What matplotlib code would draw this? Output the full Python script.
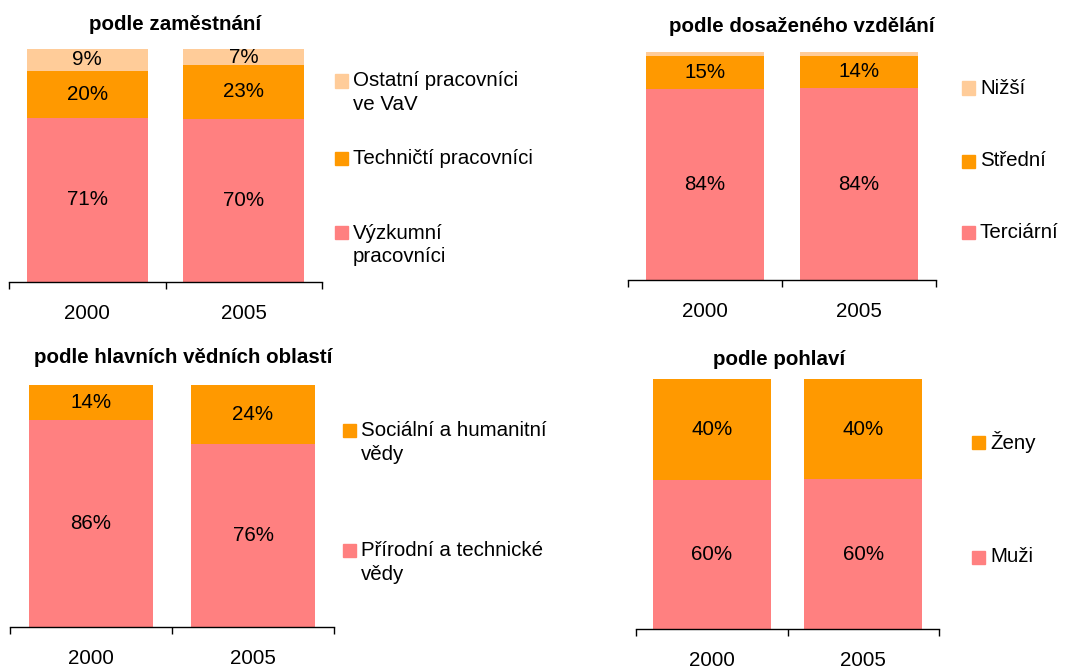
"""Struktura zaměstnanců VaV - čtyři 100% skládané sloupcové grafy (2000 vs 2005)."""
import matplotlib
matplotlib.use('Agg')
import matplotlib.pyplot as plt
from matplotlib.patches import Rectangle
from matplotlib.ticker import FixedLocator

plt.rcParams['font.family'] = ['Liberation Sans', 'DejaVu Sans']

W, H = 1072, 668
FS = 14.8

PINK = '#FF8080'
ORANGE = '#FF9900'
LIGHT = '#FFCC99'

years = ['2000', '2005']

# podle zaměstnání (odspodu nahoru)
zam_labels = ['Výzkumní\npracovníci', 'Techničtí pracovníci', 'Ostatní pracovníci\nve VaV']
zam_vyzkumni = [70.6, 70.0]
zam_technicti = [20.1, 23.1]
zam_ostatni = [9.3, 6.9]

# podle dosaženého vzdělání
vzd_labels = ['Terciární', 'Střední', 'Nižší']
vzd_terciarni = [83.7, 84.2]
vzd_stredni = [14.6, 14.1]
vzd_nizsi = [1.7, 1.7]

# podle hlavních vědních oblastí
obl_labels = ['Přírodní a technické\nvědy', 'Sociální a humanitní\nvědy']
obl_prirodni = [85.7, 75.7]
obl_socialni = [14.3, 24.3]

# podle pohlaví
poh_labels = ['Muži', 'Ženy']
poh_muzi = [59.6, 59.9]
poh_zeny = [40.4, 40.1]


def fx(px):
    return px / W


def fy(py):
    return 1 - py / H


def draw_panel(fig, box, title, title_xy, series, labels, colors,
               bar_width, leg_x, leg_y):
    left, top, right, bottom = box
    ax = fig.add_axes([fx(left), fy(bottom), fx(right - left), (bottom - top) / H])
    x = [0.5, 1.5]
    base = [0.0, 0.0]
    for vals, col in zip(series, colors):
        ax.bar(x, vals, bottom=base, width=bar_width, color=col, linewidth=0)
        for xi, b, v in zip(x, base, vals):
            if v >= 3:
                ax.text(xi, b + v / 2, f'{v:.0f}%', ha='center', va='center',
                        fontsize=FS, color='black')
        base = [b + v for b, v in zip(base, vals)]

    ax.set_xlim(0, 2)
    ax.set_ylim(0, 100)
    ax.set_yticks([])
    for s in ['top', 'left', 'right']:
        ax.spines[s].set_visible(False)
    ax.spines['bottom'].set_linewidth(1.0)
    ax.set_xticks(x)
    ax.set_xticklabels(years, fontsize=FS)
    ax.xaxis.set_minor_locator(FixedLocator([0, 1, 2]))
    ax.tick_params(axis='x', which='major', length=0, pad=16)
    ax.tick_params(axis='x', which='minor', length=5, width=1.0, direction='out')

    fig.text(fx(title_xy[0]), fy(title_xy[1]), title, ha='center', va='center',
             fontsize=FS, fontweight='bold')

    # legenda (shora dolů = opačné pořadí řad)
    for lab, col, yc in zip(labels[::-1], colors[::-1], leg_y):
        fig.patches.append(Rectangle((fx(leg_x), fy(yc + 6.5)), 13 / W, 13 / H,
                                     transform=fig.transFigure, color=col,
                                     figure=fig))
        for i, line in enumerate(lab.split('\n')):
            fig.text(fx(leg_x + 18), fy(yc + i * 24), line, ha='left',
                     va='center', fontsize=FS)
    return ax


fig = plt.figure(figsize=(W / 100, H / 100), dpi=100)

draw_panel(fig, (9, 49, 322, 282), 'podle zaměstnání', (175, 24),
           [zam_vyzkumni, zam_technicti, zam_ostatni], zam_labels,
           [PINK, ORANGE, LIGHT], 0.77, 335, [81, 158, 233])

draw_panel(fig, (628, 52, 936, 280), 'podle dosaženého vzdělání', (802, 27),
           [vzd_terciarni, vzd_stredni, vzd_nizsi], vzd_labels,
           [PINK, ORANGE, LIGHT], 0.77, 962, [88, 161, 232])

draw_panel(fig, (10, 385, 334, 627), 'podle hlavních vědních oblastí', (183, 358),
           [obl_prirodni, obl_socialni], obl_labels,
           [PINK, ORANGE], 0.77, 343, [430, 550])

draw_panel(fig, (636, 379, 939, 629), 'podle pohlaví', (779, 359),
           [poh_muzi, poh_zeny], poh_labels,
           [PINK, ORANGE], 0.78, 972, [442, 557])

fig.savefig('out.png', dpi=100)
